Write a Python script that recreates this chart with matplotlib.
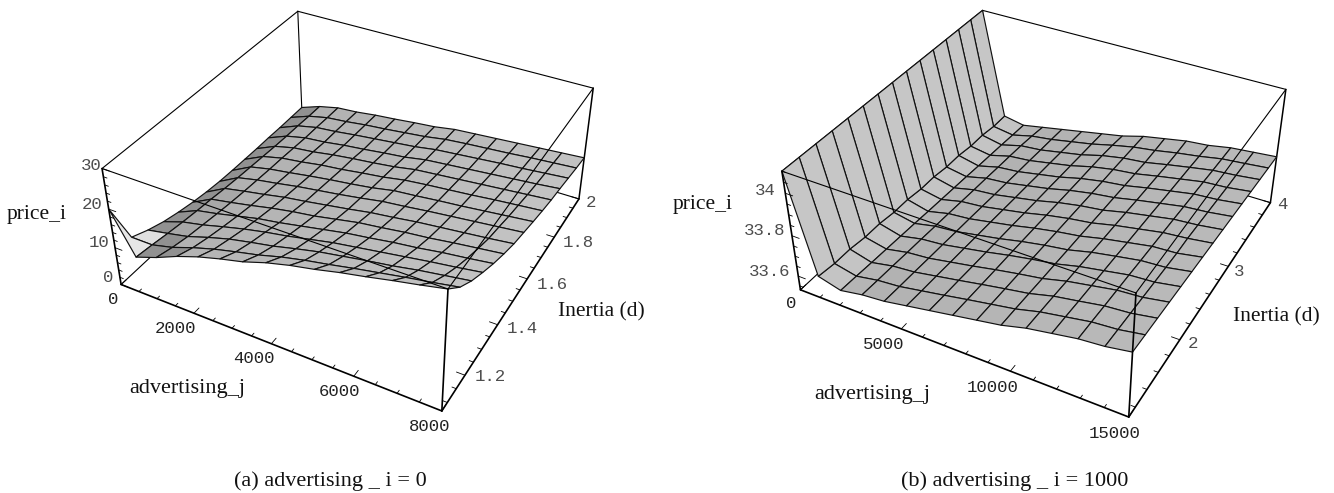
import numpy as np
import matplotlib
matplotlib.use("Agg")
import matplotlib.pyplot as plt
from mpl_toolkits.mplot3d import Axes3D
from mpl_toolkits.mplot3d import proj3d
from mpl_toolkits.mplot3d.art3d import Line3DCollection

# ---------- data ----------
adv_j_a = np.linspace(0, 8000, 15)
inertia_a = np.linspace(1.07, 2, 15)
price_a = [
    [20.0, 9.6, 11.6, 14.0, 16.0, 17.6, 19.0, 20.9, 22.4, 23.6, 25.0, 26.2, 27.5, 28.7, 30.0],
    [9.0, 9.0, 10.4, 12.4, 14.1, 15.5, 16.8, 18.4, 19.7, 20.8, 22.0, 23.1, 24.2, 25.2, 26.3],
    [7.2, 8.3, 9.5, 11.3, 12.9, 14.1, 15.2, 16.6, 17.9, 18.9, 19.9, 20.8, 21.9, 22.8, 23.7],
    [5.8, 7.7, 8.9, 10.4, 11.8, 13.0, 14.0, 15.2, 16.4, 17.3, 18.2, 19.1, 20.0, 20.8, 21.7],
    [4.8, 7.2, 8.3, 9.6, 10.9, 11.8, 12.9, 14.0, 15.1, 15.9, 16.8, 17.5, 18.4, 19.1, 19.9],
    [4.0, 6.8, 7.8, 8.9, 10.1, 11.1, 11.9, 13.0, 14.1, 14.8, 15.6, 16.2, 17.0, 17.7, 18.4],
    [3.4, 6.3, 7.4, 8.4, 9.5, 10.3, 11.2, 12.1, 13.1, 13.8, 14.6, 15.2, 15.8, 16.4, 17.1],
    [3.0, 5.9, 7.1, 8.0, 9.0, 9.8, 10.6, 11.5, 12.5, 13.1, 13.8, 14.4, 15.0, 15.6, 16.2],
    [2.8, 5.6, 6.8, 7.6, 8.5, 9.3, 10.0, 10.8, 11.9, 12.4, 13.0, 13.5, 14.1, 14.7, 15.3],
    [2.7, 5.3, 6.6, 7.3, 8.2, 8.8, 9.6, 10.3, 11.3, 11.9, 12.4, 12.9, 13.5, 14.0, 14.5],
    [2.6, 5.0, 6.3, 6.9, 7.8, 8.5, 9.1, 9.8, 10.8, 11.3, 11.8, 12.3, 12.8, 13.3, 13.8],
    [2.6, 4.8, 6.0, 6.5, 7.3, 7.9, 8.6, 9.2, 10.2, 10.7, 11.2, 11.7, 12.2, 12.7, 13.3],
    [2.5, 4.7, 5.9, 6.4, 7.1, 7.7, 8.3, 8.9, 9.8, 10.3, 10.8, 11.3, 11.7, 12.2, 12.7],
    [2.5, 4.5, 5.7, 6.2, 6.9, 7.4, 8.0, 8.6, 9.5, 10.0, 10.4, 10.8, 11.3, 11.7, 12.1],
    [2.5, 4.4, 5.6, 6.0, 6.7, 7.2, 7.8, 8.3, 9.2, 9.6, 10.0, 10.4, 10.8, 11.2, 11.6],
]

adv_j_b = np.linspace(0, 15000, 15)
inertia_b = np.linspace(1.09, 4, 15)
price_b = [
    [34.1, 33.640, 33.610, 33.630, 33.640, 33.660, 33.680, 33.700, 33.720, 33.740, 33.770, 33.790, 33.810, 33.820, 33.840],
    [34.1, 33.630, 33.606, 33.626, 33.636, 33.656, 33.676, 33.697, 33.717, 33.737, 33.766, 33.786, 33.806, 33.815, 33.835],
    [34.1, 33.630, 33.601, 33.623, 33.633, 33.653, 33.673, 33.694, 33.714, 33.733, 33.762, 33.781, 33.801, 33.810, 33.830],
    [34.1, 33.620, 33.597, 33.619, 33.629, 33.649, 33.669, 33.691, 33.711, 33.729, 33.757, 33.777, 33.797, 33.805, 33.825],
    [34.1, 33.620, 33.593, 33.616, 33.626, 33.646, 33.666, 33.689, 33.709, 33.726, 33.753, 33.773, 33.793, 33.800, 33.820],
    [34.1, 33.610, 33.589, 33.612, 33.622, 33.642, 33.662, 33.686, 33.706, 33.722, 33.749, 33.769, 33.788, 33.795, 33.815],
    [34.1, 33.610, 33.584, 33.609, 33.619, 33.639, 33.659, 33.683, 33.703, 33.719, 33.744, 33.764, 33.784, 33.790, 33.810],
    [34.1, 33.600, 33.580, 33.605, 33.615, 33.635, 33.655, 33.680, 33.700, 33.715, 33.740, 33.760, 33.780, 33.790, 33.805],
    [34.1, 33.600, 33.576, 33.601, 33.611, 33.631, 33.651, 33.677, 33.697, 33.711, 33.736, 33.756, 33.776, 33.785, 33.800],
    [34.1, 33.590, 33.572, 33.598, 33.608, 33.628, 33.648, 33.674, 33.694, 33.708, 33.731, 33.751, 33.771, 33.780, 33.795],
    [34.1, 33.590, 33.567, 33.594, 33.604, 33.624, 33.644, 33.671, 33.691, 33.704, 33.727, 33.747, 33.767, 33.775, 33.790],
    [34.1, 33.580, 33.563, 33.591, 33.601, 33.621, 33.641, 33.669, 33.689, 33.701, 33.723, 33.743, 33.763, 33.770, 33.785],
    [34.1, 33.580, 33.559, 33.587, 33.597, 33.617, 33.637, 33.666, 33.686, 33.697, 33.719, 33.739, 33.758, 33.767, 33.780],
    [34.1, 33.570, 33.554, 33.580, 33.594, 33.614, 33.634, 33.660, 33.683, 33.698, 33.718, 33.734, 33.754, 33.764, 33.775],
    [34.1, 33.570, 33.550, 33.570, 33.590, 33.610, 33.630, 33.650, 33.680, 33.700, 33.720, 33.730, 33.750, 33.760, 33.770],
]

xlim_a, ylim_a, zlim_a = (0, 8000), (1.07, 2), (0, 30)
xlim_b, ylim_b, zlim_b = (0, 15000), (1.09, 4), (33.53, 34.1)

xticks_a = [0, 2000, 4000, 6000, 8000]
yticks_a = [1.2, 1.4, 1.6, 1.8, 2.0]
zticks_a = [0, 10, 20, 30]
xlabels_a = ["0", "2000", "4000", "6000", "8000"]
ylabels_a = ["1.2", "1.4", "1.6", "1.8", "2"]
zlabels_a = ["0", "10", "20", "30"]
xminor_a = np.arange(0, 8001, 500)
yminor_a = np.arange(1.1, 2.001, 0.05)
zminor_a = np.arange(0, 30.1, 2)

xticks_b = [0, 5000, 10000, 15000]
yticks_b = [2, 3, 4]
zticks_b = [33.6, 33.8, 34.0]
xlabels_b = ["0", "5000", "10000", "15000"]
ylabels_b = ["2", "3", "4"]
zlabels_b = ["33.6", "33.8", "34"]
xminor_b = np.arange(0, 15001, 1000)
yminor_b = np.arange(1.2, 4.001, 0.2)
zminor_b = np.arange(33.55, 34.1, 0.05)

# ---------- layout: where the box corners fall in the 1334x493 picture ----------
UNIT_CORNERS = [(0,0,0),(1,0,0),(1,1,0),(0,1,0),(0,0,1),(1,0,1),(1,1,1),(0,1,1)]
PIX_A = [(121,284),(442,411),(579,199),(302,116),(102,169),(448,289),(593,88),(298,11)]
PIX_B = [(800,289),(1130,417),(1270,203),(986,118),(782,172),(1135,293),(1286,89),(983,10)]


def camera(pix, xl, yl, zl):
    """Projective camera matrix (data -> picture pixels) fitted to the box corners."""
    A = []
    for (X, Y, Z), (u, v) in zip(UNIT_CORNERS, pix):
        P = [X, Y, Z, 1]
        A.append(P + [0, 0, 0, 0] + [-u * p for p in P])
        A.append([0, 0, 0, 0] + P + [-v * p for p in P])
    h = np.linalg.svd(np.array(A, float))[2][-1].reshape(3, 4)
    w = [h[2] @ np.array(list(c) + [1.0]) for c in UNIT_CORNERS]
    if np.mean(w) < 0:
        h = -h
        w = [-a for a in w]
    h = h / np.mean(w)
    depth = h[2] - np.array([0, 0, 0, 0.5])
    M = np.vstack([h[0], h[1], depth, h[2]])
    S = np.array([[1 / (xl[1] - xl[0]), 0, 0, -xl[0] / (xl[1] - xl[0])],
                  [0, 1 / (yl[1] - yl[0]), 0, -yl[0] / (yl[1] - yl[0])],
                  [0, 0, 1 / (zl[1] - zl[0]), -zl[0] / (zl[1] - zl[0])],
                  [0, 0, 0, 1]])
    return M @ S


class BoxAxes(Axes3D):
    """3D axes whose view is a given projective camera."""
    camera_matrix = None

    def get_proj(self):
        return self.camera_matrix

    def apply_aspect(self, position=None):
        pass


def grays_a():
    g = np.tile(np.linspace(0.69, 0.76, 14), (14, 1))
    g[2:, 0] = 0.57          # dark strip along the low-advertising edge
    g[0, 1:3] = 0.57
    g[1, 1] = 0.57
    g[2:6, 1] = 0.66
    g[0, 0] = 0.90
    g[1, 0] = 0.88
    return g


def grays_b():
    g = np.tile(np.linspace(0.69, 0.725, 14), (14, 1))
    g[:, 0] = 0.775          # the steep wall
    g[:, 1] = 0.77
    g[:, 2] = 0.71
    return g


def as_rgba(g):
    return np.dstack([g, g, g, np.ones_like(g)])


MONO = "Liberation Mono"
SERIF = "Liberation Serif"


def panel(fig, rect, xspan, pix, x, y, z, gray, xl, yl, zl,
          xt, yt, zt, xtl, ytl, ztl, xm, ym, zm,
          xoff, yoff, zoff, texts):
    ax = fig.add_axes(rect, axes_class=BoxAxes)
    ax.computed_zorder = False
    ax.camera_matrix = camera(pix, xl, yl, zl)
    ax.set_axis_off()
    ax.patch.set_visible(False)
    ax.set_xlim(*xl); ax.set_ylim(*yl); ax.set_zlim(*zl)
    ax.set_autoscale_on(False)

    X, Y = np.meshgrid(x, y)
    Z = np.asarray(z, float)
    ax.plot_surface(X, Y, Z, rstride=1, cstride=1, shade=False,
                    facecolors=as_rgba(gray),
                    edgecolor="#111111", linewidth=0.85, antialiased=True, zorder=3)

    x0, x1 = xl; y0, y1 = yl; z0, z1 = zl

    def lines(segs, lw, zorder):
        ax.add_collection3d(Line3DCollection(segs, colors="black", linewidths=lw,
                                             zorder=zorder, capstyle="round"),
                            autolim=False)

    # edges behind the surface
    lines([[(x0,y1,z0),(x1,y1,z0)], [(x0,y0,z0),(x0,y1,z0)], [(x0,y1,z0),(x0,y1,z1)],
           [(x0,y0,z1),(x0,y1,z1)], [(x0,y1,z1),(x1,y1,z1)]], 0.8, 1)
    lines([[(x1,y1,z0),(x1,y1,z1)]], 1.1, 2)
    # edges in front of the surface
    lines([[(x0,y0,z1),(x1,y0,z1)], [(x1,y0,z1),(x1,y1,z1)]], 0.8, 5)
    lines([[(x0,y0,z0),(x1,y0,z0)], [(x1,y0,z0),(x1,y1,z0)],
           [(x0,y0,z0),(x0,y0,z1)], [(x1,y0,z0),(x1,y0,z1)]], 1.2, 5)

    # tick marks
    dy_, dx_ = 0.012 * (y1 - y0), 0.012 * (x1 - x0)
    tk = []
    for v in xm:
        L = 2 if v in xt else 1
        tk.append([(v, y0, z0), (v, y0 + L * dy_, z0)])
    for v in ym:
        L = 2 if np.isclose(v, yt).any() else 1
        tk.append([(x1, v, z0), (x1 - L * dx_, v, z0)])
    for v in zm:
        L = 2 if np.isclose(v, zt).any() else 1
        tk.append([(x0, y0, v), (x0 + L * dx_, y0, v)])
    lines(tk, 0.6, 5)

    # tick labels placed at the projected tick position
    def pos(px, py, pz):
        u, v, _ = proj3d.proj_transform(px, py, pz, ax.camera_matrix)
        return float(u), float(v)

    def lab(s, p, off, col, ha="center"):
        ax.annotate(s, xy=p, xycoords="data", xytext=off, textcoords="offset pixels",
                    ha=ha, va="center", family=MONO, fontsize=12.5, color=col, zorder=6)

    for v, s, off in zip(xt, xtl, xoff):
        lab(s, pos(v, y0, z0), off, "#222222")
    for v, s, off in zip(yt, ytl, yoff):
        lab(s, pos(x1, v, z0), off, "#4d4d4d")
    for v, s, off in zip(zt, ztl, zoff):
        lab(s, pos(x0, y0, v), off, "#4d4d4d", ha="right")

    for s, u, v, size in texts:
        ax.annotate(s, xy=(u, v), xycoords="data", ha="center", va="center",
                    family=SERIF, fontsize=size, color="#111111", zorder=6)

    ax.viewLim.intervalx = xspan
    ax.viewLim.intervaly = (493, 0)
    return ax


fig = plt.figure(figsize=(13.34, 4.93), dpi=100, facecolor="white")

panel(fig, [0, 0, 0.5, 1], (0, 667), PIX_A, adv_j_a, inertia_a, price_a, grays_a(), xlim_a, ylim_a, zlim_a,
      xticks_a, yticks_a, zticks_a, xlabels_a, ylabels_a, zlabels_a, xminor_a, yminor_a, zminor_a,
      xoff=[(-8, -15), (-18, -15), (-17, -15), (-14, -15), (-12, -16)],
      yoff=[(25, -1), (25, -4), (25, -6), (24, -5), (12, -4)],
      zoff=[(-8, 7), (-6, 5), (-6, 5), (0, 3)],
      texts=[("price_i", 37, 215, 15.5), ("advertising_j", 187, 388, 16),
             ("Inertia (d)", 601, 312, 15.5), ("(a) advertising _ i = 0", 330, 481, 16)])

panel(fig, [0.5, 0, 0.5, 1], (667, 1334), PIX_B, adv_j_b, inertia_b, price_b, grays_b(), xlim_b, ylim_b, zlim_b,
      xticks_b, yticks_b, zticks_b, xlabels_b, ylabels_b, zlabels_b, xminor_b, yminor_b, zminor_b,
      xoff=[(-9, -14), (-18, -16), (-18, -16), (-14, -16)],
      yoff=[(13, -4), (11, -5), (12, -2)],
      zoff=[(-8, 5), (-7, 5), (-10, 3)],
      texts=[("price_i", 703, 204, 15.5), ("advertising_j", 872, 394, 16),
             ("Inertia (d)", 1276, 317, 15.5), ("(b) advertising _ i = 1000", 1015, 481, 16)])

fig.savefig("out.png", dpi=100)
